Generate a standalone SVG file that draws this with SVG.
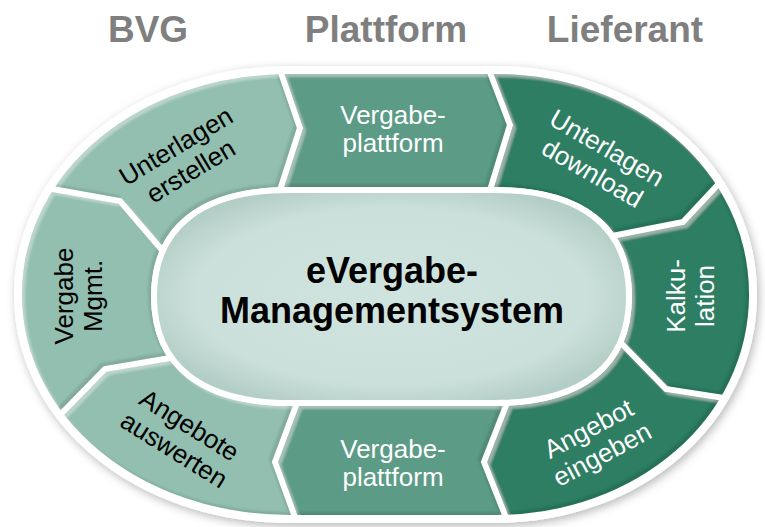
<svg xmlns="http://www.w3.org/2000/svg" width="765" height="527" viewBox="0 0 765 527">
<defs>
<style>
.hdr{font-family:"Liberation Sans",Arial,sans-serif;font-weight:bold;font-size:37px;fill:#7f7f7f;text-anchor:middle}
.lbl{font-family:"Liberation Sans",Arial,sans-serif;font-size:26px;text-anchor:middle}
.dk{fill:#000}
.wt{fill:#fff}
.ctr{font-family:"Liberation Sans",Arial,sans-serif;font-weight:bold;font-size:36px;fill:#000;text-anchor:middle}
.light{fill:#92bfb0}
.mid{fill:#5c9b86}
.dark{fill:#2e7e64}
.sep{fill:none;stroke:#000;stroke-width:6;stroke-linejoin:miter}
</style>
<filter id="shadow" x="-5%" y="-5%" width="110%" height="115%">
<feGaussianBlur in="SourceAlpha" stdDeviation="5" result="b"/>
<feOffset in="b" dx="2" dy="3" result="o"/>
<feFlood flood-color="#000" flood-opacity="0.28"/>
<feComposite in2="o" operator="in" result="s"/>
<feMerge><feMergeNode in="s"/><feMergeNode in="SourceGraphic"/></feMerge>
</filter>
<filter id="bevel" x="-5%" y="-5%" width="110%" height="110%">
<feGaussianBlur in="SourceAlpha" stdDeviation="1.2" result="b"/>
<feOffset in="b" dx="3" dy="3" result="o1"/>
<feComposite in="SourceAlpha" in2="o1" operator="out" result="tl"/>
<feFlood flood-color="#fff" flood-opacity="0.3"/>
<feComposite in2="tl" operator="in" result="hi"/>
<feOffset in="b" dx="-3" dy="-3" result="o2"/>
<feComposite in="SourceAlpha" in2="o2" operator="out" result="br"/>
<feFlood flood-color="#000" flood-opacity="0.22"/>
<feComposite in2="br" operator="in" result="sh"/>
<feMerge><feMergeNode in="SourceGraphic"/><feMergeNode in="hi"/><feMergeNode in="sh"/></feMerge>
</filter>
<radialGradient id="innerGrad" cx="50%" cy="50%" r="55%">
<stop offset="0" stop-color="#d0e4df"/>
<stop offset="0.75" stop-color="#cbe0da"/>
<stop offset="1" stop-color="#b3cec6"/>
</radialGradient>
<mask id="ringMask" maskUnits="userSpaceOnUse" x="0" y="0" width="765" height="527">
<path d="M290,70 L495,70 C639.5,70 753,168.8 753,294.5 C753,420.2 639.5,519 495,519 L290,519 C137.7,519 18,420.2 18,294.5 C18,168.8 137.7,70 290,70 Z" fill="#fff" stroke="#000" stroke-width="8"/>
<path d="M290,190 L495,190 C582.1,190 629,227.3 629,296.5 C629,365.7 582.1,403 495,403 L290,403 C201.6,403 154,365.7 154,296.5 C154,227.3 201.6,190 290,190 Z" fill="#000" stroke="#000" stroke-width="6"/>
<polyline class="sep" points="0,180 47,188 120,201 162,250 190,283"/>
<polyline class="sep" points="256,0 280,70 300,128 281,187 275,205"/>
<polyline class="sep" points="462,0 489,70 510,125 491,187 485,205"/>
<polyline class="sep" points="765,134 726,176 683,222 612,236 580,242"/>
<polyline class="sep" points="600,322 622,344 666,389 737,400 765,404"/>
<polyline class="sep" points="515,380 507,403 484,462 507,520 510,527"/>
<polyline class="sep" points="305,380 297,403 275,462 296,520 299,527"/>
<polyline class="sep" points="200,353 170,358 105,369 60,415 0,476"/>
</mask>
</defs>
<rect width="765" height="527" fill="#fff"/>
<g id="headers">
<text class="hdr" x="148" y="42">BVG</text>
<text class="hdr" x="386" y="42">Plattform</text>
<text class="hdr" x="625" y="42">Lieferant</text>
</g>
<path id="ring-base" d="M290,70 L495,70 C639.5,70 753,168.8 753,294.5 C753,420.2 639.5,519 495,519 L290,519 C137.7,519 18,420.2 18,294.5 C18,168.8 137.7,70 290,70 Z" fill="#fff" stroke="#fff" stroke-width="8" filter="url(#shadow)"/>
<g id="node-unterlagen-erstellen">
<g filter="url(#bevel)"><polygon class="light" mask="url(#ringMask)" points="392,296 190,283 162,250 120,201 47,188 0,180 0,0 256,0 280,70 300,128 281,187 275,205"/></g>
<g transform="translate(183,158) rotate(-31)"><text class="lbl dk" x="0" y="-5">Unterlagen</text><text class="lbl dk" x="0" y="24">erstellen</text></g>
</g>
<g id="node-vergabeplattform-oben">
<g filter="url(#bevel)"><polygon class="mid" mask="url(#ringMask)" points="392,296 275,205 281,187 300,128 280,70 256,0 462,0 489,70 510,125 491,187 485,205"/></g>
<text class="lbl wt" x="393" y="124">Vergabe-</text><text class="lbl wt" x="393" y="152">plattform</text>
</g>
<g id="node-unterlagen-download">
<g filter="url(#bevel)"><polygon class="dark" mask="url(#ringMask)" points="392,296 485,205 491,187 510,125 489,70 462,0 765,0 765,134 726,176 683,222 612,236 580,242"/></g>
<g transform="translate(600,160) rotate(30)"><text class="lbl wt" x="0" y="-5">Unterlagen</text><text class="lbl wt" x="0" y="24">download</text></g>
</g>
<g id="node-kalkulation">
<g filter="url(#bevel)"><polygon class="dark" mask="url(#ringMask)" points="392,296 580,242 612,236 683,222 726,176 765,134 765,404 737,400 666,389 622,344 600,322"/></g>
<g transform="translate(690,296) rotate(-90)"><text class="lbl wt" x="0" y="-5">Kalku-</text><text class="lbl wt" x="0" y="24">lation</text></g>
</g>
<g id="node-angebot-eingeben">
<g filter="url(#bevel)"><polygon class="dark" mask="url(#ringMask)" points="392,296 600,322 622,344 666,389 737,400 765,404 765,527 510,527 507,520 484,462 507,403 515,380"/></g>
<g transform="translate(595,441) rotate(-28)"><text class="lbl wt" x="0" y="-5">Angebot</text><text class="lbl wt" x="0" y="24">eingeben</text></g>
</g>
<g id="node-vergabeplattform-unten">
<g filter="url(#bevel)"><polygon class="mid" mask="url(#ringMask)" points="392,296 515,380 507,403 484,462 507,520 510,527 299,527 296,520 275,462 297,403 305,380"/></g>
<text class="lbl wt" x="393" y="458">Vergabe-</text><text class="lbl wt" x="393" y="486">plattform</text>
</g>
<g id="node-angebote-auswerten">
<g filter="url(#bevel)"><polygon class="light" mask="url(#ringMask)" points="392,296 305,380 297,403 275,462 296,520 299,527 0,527 0,476 60,415 105,369 170,358 200,353"/></g>
<g transform="translate(182,437) rotate(32)"><text class="lbl dk" x="0" y="-5">Angebote</text><text class="lbl dk" x="0" y="24">auswerten</text></g>
</g>
<g id="node-vergabe-mgmt">
<g filter="url(#bevel)"><polygon class="light" mask="url(#ringMask)" points="392,296 200,353 170,358 105,369 60,415 0,476 0,180 47,188 120,201 162,250 190,283"/></g>
<g transform="translate(78,296) rotate(-90)"><text class="lbl dk" x="0" y="-5">Vergabe</text><text class="lbl dk" x="0" y="24">Mgmt.</text></g>
</g>
<g id="node-center">
<path d="M290,190 L495,190 C582.1,190 629,227.3 629,296.5 C629,365.7 582.1,403 495,403 L290,403 C201.6,403 154,365.7 154,296.5 C154,227.3 201.6,190 290,190 Z" fill="url(#innerGrad)" stroke="#fff" stroke-width="6"/>
<text class="ctr" x="392" y="283">eVergabe-</text>
<text class="ctr" x="392" y="323">Managementsystem</text>
</g>
<g id="connectors"/>
</svg>
